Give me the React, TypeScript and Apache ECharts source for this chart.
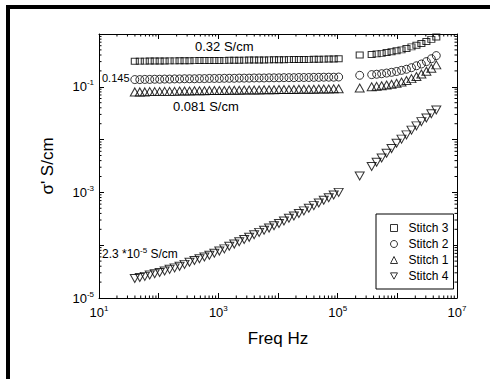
import React, { useEffect, useRef } from 'react';
import * as echarts from 'echarts';

const FONT = '"Liberation Sans", Arial, sans-serif';

// Frequencies (Hz)
const freqLow = [39.8, 48.3, 58.5, 70.8, 85.8, 103.9, 125.9, 152.5, 184.8, 223.9, 271.2, 328.6, 398.1, 482.5, 584.5, 707.9, 857.7, 1039, 1259, 1525, 1848, 2239, 2712, 3286, 3981, 4825, 5845, 7079, 8577, 10390, 12589, 15250, 18478, 22387, 27123, 32860, 39811, 48245, 58449, 70795, 85770, 103900];
const freqHigh = [234000, 371500, 449800, 545800, 660700, 799800, 970500, 1175000, 1422000, 1726000, 2089000, 2529000, 3069000, 3715000, 4498000];

// Conductivity (S/cm)
const stitch3Low = [0.305, 0.306, 0.306, 0.307, 0.308, 0.308, 0.309, 0.31, 0.31, 0.311, 0.312, 0.312, 0.313, 0.314, 0.314, 0.315, 0.316, 0.316, 0.317, 0.318, 0.318, 0.319, 0.32, 0.321, 0.321, 0.322, 0.323, 0.324, 0.325, 0.325, 0.326, 0.327, 0.328, 0.329, 0.33, 0.331, 0.332, 0.333, 0.334, 0.336, 0.337, 0.339];
const stitch3High = [0.40, 0.41, 0.42, 0.43, 0.445, 0.46, 0.48, 0.50, 0.53, 0.57, 0.61, 0.66, 0.72, 0.79, 0.88];

const stitch2Low = [0.137, 0.137, 0.138, 0.138, 0.139, 0.139, 0.14, 0.14, 0.141, 0.141, 0.142, 0.142, 0.142, 0.143, 0.143, 0.144, 0.144, 0.144, 0.145, 0.145, 0.145, 0.146, 0.146, 0.146, 0.147, 0.147, 0.147, 0.148, 0.148, 0.148, 0.149, 0.149, 0.149, 0.15, 0.15, 0.15, 0.151, 0.151, 0.152, 0.152, 0.152, 0.153];
const stitch2High = [0.165, 0.17, 0.173, 0.177, 0.182, 0.188, 0.195, 0.205, 0.215, 0.23, 0.25, 0.27, 0.30, 0.34, 0.39];

const stitch1Low = [0.080, 0.080, 0.080, 0.081, 0.081, 0.081, 0.082, 0.082, 0.082, 0.083, 0.083, 0.083, 0.084, 0.084, 0.084, 0.085, 0.085, 0.085, 0.085, 0.086, 0.086, 0.086, 0.087, 0.087, 0.087, 0.087, 0.088, 0.088, 0.088, 0.089, 0.089, 0.089, 0.089, 0.09, 0.09, 0.09, 0.09, 0.091, 0.091, 0.091, 0.092, 0.092];
const stitch1High = [0.095, 0.10, 0.102, 0.105, 0.108, 0.112, 0.117, 0.123, 0.132, 0.143, 0.157, 0.175, 0.197, 0.225, 0.26];

const stitch4Low = [2.34e-5, 2.44e-5, 2.57e-5, 2.72e-5, 2.88e-5, 3.05e-5, 3.24e-5, 3.49e-5, 3.72e-5, 3.98e-5, 4.33e-5, 4.75e-5, 5.13e-5, 5.53e-5, 5.98e-5, 6.46e-5, 7.03e-5, 7.74e-5, 8.51e-5, 9.55e-5, 1.05e-4, 1.16e-4, 1.28e-4, 1.41e-4, 1.58e-4, 1.75e-4, 1.92e-4, 2.11e-4, 2.33e-4, 2.57e-4, 2.88e-4, 3.24e-4, 3.57e-4, 3.98e-4, 4.47e-4, 5.01e-4, 5.62e-4, 6.31e-4, 7.08e-4, 7.94e-4, 8.91e-4, 1.0e-3];
const stitch4High = [2.04e-3, 3.09e-3, 3.72e-3, 4.47e-3, 5.5e-3, 6.76e-3, 8.51e-3, 1.02e-2, 1.23e-2, 1.51e-2, 1.82e-2, 2.19e-2, 2.57e-2, 3.09e-2, 3.63e-2];

const seriesNames = ['Stitch 3', 'Stitch 2', 'Stitch 1', 'Stitch 4'];

// Tick labels (exponents of 10 that carry a label)
const xLabelExps = [1, 3, 5, 7];
const yLabelExps = [-5, -3, -1];
const minorMult = [2, 3, 4, 5, 6, 7, 8, 9];

const zip = (fs: number[], vs: number[]) => fs.map((f, i) => [f, vs[i]]);

export default function App() {
  const ref = useRef<HTMLDivElement>(null);
  useEffect(() => {
    if (!ref.current) return;
    const chart = echarts.init(ref.current, undefined, { renderer: 'svg' });
    const rich = {
      b: { fontSize: 13, fontFamily: FONT, color: '#000', lineHeight: 16 },
      s: { fontSize: 8, fontFamily: FONT, color: '#000', lineHeight: 9, verticalAlign: 'top' },
    };
    const fmt = (keep: number[]) => (v: number) => {
      const e = Math.round(Math.log10(v));
      return keep.includes(e) ? `{b|10}{s|${e}}` : '';
    };
    const axisCommon = {
      type: 'log',
      logBase: 10,
      axisLine: { show: true, onZero: false, lineStyle: { color: '#000', width: 1 } },
      axisTick: { show: true, inside: true, length: 5, lineStyle: { color: '#000' } },
      splitLine: { show: false },
    };
    const mk = (name: string, symbol: string, size: number | number[], data: number[][], rotate = 0) => ({
      name,
      type: 'scatter',
      symbol,
      symbolSize: size,
      symbolRotate: rotate,
      data,
      itemStyle: { color: 'none', borderColor: '#000', borderWidth: 1 },
      emphasis: { disabled: true },
    });
    const line = (x1: number, y1: number, x2: number, y2: number) => ({
      type: 'line',
      shape: { x1, y1, x2, y2 },
      style: { stroke: '#000', lineWidth: 1 },
    });
    chart.setOption({
      animation: false,
      grid: { left: 99, top: 34, right: 33, bottom: 81 },
      xAxis: [
        {
          ...axisCommon,
          min: 10,
          max: 1e7,
          position: 'bottom',
          name: 'Freq Hz',
          nameLocation: 'middle',
          nameGap: 32,
          nameTextStyle: { fontSize: 17, fontFamily: FONT, color: '#000' },
          axisLabel: { margin: 6, formatter: fmt(xLabelExps), rich },
        },
        { ...axisCommon, min: 10, max: 1e7, position: 'top', axisLabel: { show: false } },
      ],
      yAxis: [
        {
          ...axisCommon,
          min: 1e-5,
          max: 1,
          position: 'left',
          name: "σ' S/cm",
          nameLocation: 'middle',
          nameGap: 43,
          nameTextStyle: { fontSize: 17, fontFamily: FONT, color: '#000' },
          axisLabel: { margin: 5, formatter: fmt(yLabelExps), rich },
        },
        { ...axisCommon, min: 1e-5, max: 1, position: 'right', axisLabel: { show: false } },
      ],
      legend: {
        data: [
          { name: 'Stitch 3', icon: 'rect' },
          { name: 'Stitch 2', icon: 'circle' },
          { name: 'Stitch 1', icon: 'triangle' },
          { name: 'Stitch 4', icon: 'path://M0,0L10,0L5,9Z' },
        ],
        orient: 'vertical',
        left: 376,
        top: 214,
        padding: [7, 5, 6, 12],
        itemWidth: 7,
        itemHeight: 7,
        itemGap: 2,
        borderColor: '#000',
        borderWidth: 1,
        backgroundColor: '#fff',
        borderRadius: 0,
        itemStyle: { color: 'none', borderColor: '#000', borderWidth: 1 },
        textStyle: { fontSize: 12, lineHeight: 14, fontFamily: FONT, color: '#000', padding: [0, 0, 0, 6] },
        selectedMode: false,
      },
      series: [
        mk('Stitch 3', 'rect', [7, 6], zip(freqLow, stitch3Low).concat(zip(freqHigh, stitch3High))),
        mk('Stitch 2', 'circle', 8, zip(freqLow, stitch2Low).concat(zip(freqHigh, stitch2High))),
        mk('Stitch 1', 'triangle', [9, 8], zip(freqLow, stitch1Low).concat(zip(freqHigh, stitch1High))),
        mk('Stitch 4', 'triangle', [9, 8], zip(freqLow, stitch4Low).concat(zip(freqHigh, stitch4High)), 180),
        {
          type: 'custom',
          silent: true,
          data: [[10, 1e-5]],
          renderItem: (params: any, api: any) => {
            const children: any[] = [];
            const bl = api.coord([10, 1e-5]);
            const tr = api.coord([1e7, 1]);
            const bottom = bl[1], top = tr[1], left = bl[0], right = tr[0];
            for (let d = 1; d < 7; d++) {
              for (const m of minorMult) {
                const x = api.coord([m * Math.pow(10, d), 1e-5])[0];
                children.push(line(x, bottom, x, bottom - 2.5));
                children.push(line(x, top, x, top + 2.5));
              }
            }
            for (let d = -5; d < 0; d++) {
              for (const m of minorMult) {
                const y = api.coord([10, m * Math.pow(10, d)])[1];
                children.push(line(left, y, left + 2.5, y));
                children.push(line(right, y, right - 2.5, y));
              }
            }
            return { type: 'group', children };
          },
        },
      ],
      graphic: [
        { type: 'rect', shape: { x: 6, y: 5, width: 484, height: 4 }, style: { fill: '#000' } },
        { type: 'rect', shape: { x: 6, y: 5, width: 4, height: 374 }, style: { fill: '#000' } },
        { type: 'text', x: 195, y: 46, style: { text: '0.32 S/cm', font: `13px ${FONT}`, fill: '#000', verticalAlign: 'middle' } },
        { type: 'text', x: 102, y: 78, style: { text: '0.145', font: `11px ${FONT}`, fill: '#000', verticalAlign: 'middle' } },
        { type: 'text', x: 173, y: 106, style: { text: '0.081 S/cm', font: `13px ${FONT}`, fill: '#000', verticalAlign: 'middle' } },
        {
          type: 'text',
          x: 102,
          y: 254,
          style: {
            text: '{a|2.3 *10}{s|-5}{a| S/cm}',
            verticalAlign: 'middle',
            rich: {
              a: { fontSize: 12, fontFamily: FONT, fill: '#000', lineHeight: 15 },
              s: { fontSize: 8, fontFamily: FONT, fill: '#000', lineHeight: 9, verticalAlign: 'top' },
            },
          },
        },
      ],
    });
    return () => chart.dispose();
  }, []);
  return <div ref={ref} style={{ position: 'fixed', left: 0, top: 0, width: 490, height: 379, background: '#fff' }} />;
}
